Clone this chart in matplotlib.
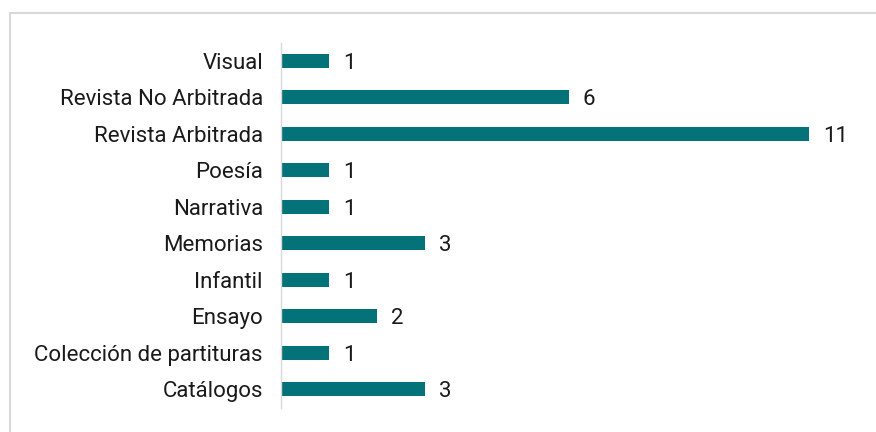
import matplotlib
matplotlib.use("Agg")
import matplotlib.pyplot as plt
from matplotlib.lines import Line2D

categories = ["Catálogos", "Colección de partituras", "Ensayo", "Infantil", "Memorias",
              "Narrativa", "Poesía", "Revista Arbitrada", "Revista No Arbitrada", "Visual"]
values = [3, 1, 2, 1, 3, 1, 1, 11, 6, 1]

plt.rcParams['font.family'] = ['Roboto', 'DejaVu Sans']

fig = plt.figure(figsize=(8.76, 4.32), dpi=100)
W, H = 876, 432
ax = fig.add_axes([281 / W, 1 - 407.5 / H, (857 - 281) / W, (407.5 - 42.5) / H])

ypos = list(range(len(categories)))
bars = ax.barh(ypos, values, height=0.39, color="#047379")
ax.set_ylim(-0.5, len(categories) - 0.5)
ax.set_xlim(0, 12)
ax.set_yticks(ypos)
ax.set_yticklabels(categories, fontsize=16, color="#1a1a1a")
ax.tick_params(axis="y", length=0, pad=13)
ax.set_xticks([])
for s in ["top", "right", "bottom"]:
    ax.spines[s].set_visible(False)
ax.spines["left"].set_color("#d9d9d9")
ax.spines["left"].set_linewidth(1.0)

for y, v in zip(ypos, values):
    ax.annotate(str(v), xy=(v, y), xytext=(10, 0), textcoords="offset points",
                ha="left", va="center_baseline", fontsize=16, color="#1a1a1a")

# outer chart frame (partially visible)
fig.add_artist(Line2D([10 / W, 1], [1 - 13 / H, 1 - 13 / H], transform=fig.transFigure,
                      color="#d9d9d9", lw=1.5))
fig.add_artist(Line2D([10 / W, 10 / W], [0, 1 - 13 / H], transform=fig.transFigure,
                      color="#d9d9d9", lw=1.5))

fig.savefig("out.png", dpi=100)
